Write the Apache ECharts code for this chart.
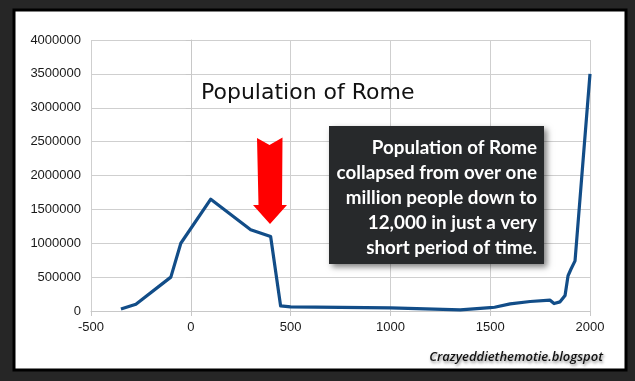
<!DOCTYPE html>
<html><head><meta charset="utf-8">
<script src="https://cdn.jsdelivr.net/npm/echarts@6/dist/echarts.min.js"></script>
<style>html,body{margin:0;padding:0;background:#262626}#c{width:635px;height:381px}</style>
</head><body><div id="c"></div>
<script>
const years = [-350, -275, -100, -50, 100, 300, 400, 450, 500, 1000, 1350, 1500, 1522, 1532, 1600, 1700, 1800, 1820, 1850, 1875, 1890, 1905, 1925, 2000];
const population = [30000, 100000, 500000, 1000000, 1650000, 1200000, 1100000, 75000, 60000, 45000, 17000, 50000, 55000, 35000, 105000, 140000, 160000, 110000, 135000, 230000, 520000, 620000, 740000, 3500000];
const xTicks = [-500, 0, 500, 1000, 1500, 2000];
const yTicks = [0, 500000, 1000000, 1500000, 2000000, 2500000, 3000000, 3500000, 4000000];
const chartTitle = 'Population of Rome';
const noteLines = ['Population of Rome', 'collapsed from over one', 'million people down to', '12,000 in just a very', 'short period of time.'];
const credit = 'Crazyeddiethemotie.blogspot';

const chart = echarts.init(document.getElementById('c'), null, {renderer: 'canvas'});
const data = years.map((y, i) => [y, population[i]]);
chart.setOption({
  backgroundColor: '#262626',
  animation: false,
  grid: {left: 91, right: 45, top: 40, bottom: 70, containLabel: false},
  xAxis: {
    type: 'value', min: xTicks[0], max: xTicks[xTicks.length - 1], interval: 500,
    axisLine: {show: true, onZero: false, lineStyle: {color: '#c8c8c8', width: 1}},
    axisTick: {show: true, length: 5, lineStyle: {color: '#c8c8c8'}},
    axisLabel: {color: '#1a1a1a', fontFamily: 'Liberation Sans', fontSize: 13, margin: 10, formatter: v => String(v)},
    splitLine: {show: true, lineStyle: {color: '#cfcfcf', width: 1}}
  },
  yAxis: {
    type: 'value', min: yTicks[0], max: yTicks[yTicks.length - 1], interval: 500000,
    axisLine: {show: true, lineStyle: {color: '#c8c8c8', width: 1}},
    axisTick: {show: true, length: 5, lineStyle: {color: '#c8c8c8'}},
    axisLabel: {color: '#1a1a1a', fontFamily: 'Liberation Sans', fontSize: 13, margin: 10, formatter: v => String(v)},
    splitLine: {show: true, lineStyle: {color: '#cfcfcf', width: 1}}
  },
  graphic: [
    {type: 'rect', z: -10, shape: {x: 14, y: 10, width: 612, height: 360}, style: {fill: '#ffffff', stroke: '#000000', lineWidth: 3}},
    {type: 'text', z: 10, style: {x: 201, y: 93, text: chartTitle, verticalAlign: 'middle', font: '22px "DejaVu Sans"', fill: '#111'}},
    {type: 'polygon', z: 10, shape: {points: [[257, 138], [269.5, 145], [282.5, 137.5], [282, 205], [287, 205], [270, 224], [253, 205], [258.5, 205]]}, style: {fill: '#ff0000'}},
    {type: 'rect', z: 10, shape: {x: 329, y: 126, width: 215, height: 138}, style: {fill: '#27292b', shadowBlur: 6, shadowOffsetX: 3, shadowOffsetY: 3, shadowColor: 'rgba(0,0,0,0.5)'}},
    {type: 'text', z: 11, style: {x: 537, y: 135, text: noteLines.join('\n'), align: 'right', verticalAlign: 'top', font: 'bold 18.8px Lato', lineHeight: 25, fill: '#ffffff'}},
    {type: 'text', z: 11, style: {x: 603, y: 357, text: credit, align: 'right', verticalAlign: 'middle', font: 'italic 600 13px "Open Sans"', fill: '#111', textShadowColor: 'rgba(0,0,0,0.45)', textShadowBlur: 3, textShadowOffsetX: 1, textShadowOffsetY: 2}}
  ],
  series: [{
    type: 'line', data: data, symbol: 'none', smooth: false,
    lineStyle: {color: '#124d88', width: 3.2, join: 'round'}
  }]
});
</script></body></html>
